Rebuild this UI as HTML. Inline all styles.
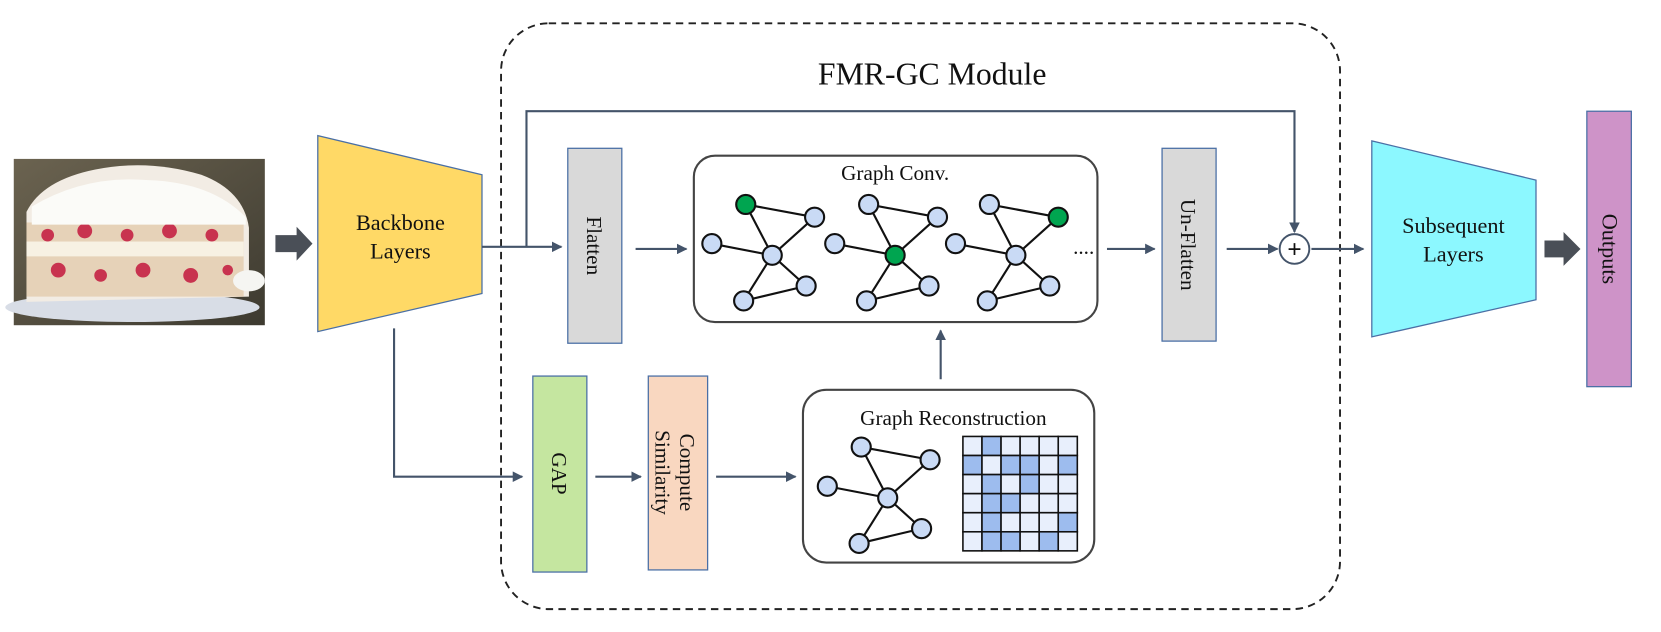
<!DOCTYPE html>
<html><head><meta charset="utf-8"><style>
html,body{margin:0;padding:0;background:#fff;}
svg{display:block;}
text{font-family:"Liberation Serif",serif;fill:#111;}
</style></head><body>
<svg width="1661" height="632" viewBox="0 0 1568 596.6" preserveAspectRatio="none" xmlns="http://www.w3.org/2000/svg">
<defs>
<marker id="ar" viewBox="0 0 10 10" refX="9" refY="5" markerWidth="5" markerHeight="5" orient="auto"><path d="M0,0 L10,5 L0,10 z" fill="#44546A"/></marker>
<linearGradient id="bg" x1="0" y1="0" x2="1" y2="1"><stop offset="0" stop-color="#6b6350"/><stop offset="1" stop-color="#3d3a30"/></linearGradient>
</defs>
<rect x="13" y="150" width="237" height="157" fill="url(#bg)"/>
<ellipse cx="125" cy="290" rx="120" ry="14" fill="#d8dde6"/>
<path d="M25,200 Q40,170 90,160 Q140,150 190,165 Q230,180 235,215 L235,280 L25,285 Z" fill="#f2ece4"/>
<rect x="25" y="210" width="205" height="70" fill="#e6d2b8"/>
<rect x="25" y="228" width="205" height="14" fill="#f7f1e3"/>
<g fill="#c8334f">
<circle cx="45" cy="222" r="6"/><circle cx="80" cy="218" r="7"/><circle cx="120" cy="222" r="6"/><circle cx="160" cy="218" r="7"/><circle cx="200" cy="222" r="6"/>
<circle cx="55" cy="255" r="7"/><circle cx="95" cy="260" r="6"/><circle cx="135" cy="255" r="7"/><circle cx="180" cy="260" r="7"/><circle cx="215" cy="255" r="5"/>
</g>
<path d="M30,195 Q80,165 140,170 Q200,172 232,205 L232,212 L30,212 Z" fill="#fbfbf8"/>
<ellipse cx="235" cy="265" rx="15" ry="10" fill="#f5f5f2"/>
<path d="M260,222 L280,222 L280,214 L295,230 L280,246 L280,238 L260,238 Z" fill="#4a4f57"/>
<path d="M1458,227 L1476,227 L1476,219 L1492,235 L1476,251 L1476,243 L1458,243 Z" fill="#4a4f57"/>
<polygon points="300,128 455,165 455,277 300,313" fill="#FFD966" stroke="#4a6fa5" stroke-width="1.2"/>
<text x="378" y="217" font-size="21" text-anchor="middle">Backbone</text>
<text x="378" y="244" font-size="21" text-anchor="middle">Layers</text>
<rect x="473" y="22" width="792" height="553" rx="45" fill="none" stroke="#222" stroke-width="1.8" stroke-dasharray="7,5"/>
<text x="880" y="80" font-size="30" text-anchor="middle">FMR-GC Module</text>
<g stroke="#44546A" stroke-width="2" fill="none">
<path d="M455,233 L530,233" marker-end="url(#ar)"/>
<path d="M497,233 L497,105 L1222,105 L1222,219" marker-end="url(#ar)"/>
<path d="M600,235 L648,235" marker-end="url(#ar)"/>
<path d="M1045,235 L1090,235" marker-end="url(#ar)"/>
<path d="M1158,235 L1206,235" marker-end="url(#ar)"/>
<path d="M1238,235 L1287,235" marker-end="url(#ar)"/>
<path d="M372,310 L372,450 L493,450" marker-end="url(#ar)"/>
<path d="M562,450 L605,450" marker-end="url(#ar)"/>
<path d="M676,450 L751,450" marker-end="url(#ar)"/>
<path d="M888,358 L888,312" marker-end="url(#ar)"/>
</g>
<circle cx="1222" cy="235" r="14" fill="#fff" stroke="#44546A" stroke-width="1.8"/>
<text x="1222" y="243" font-size="24" text-anchor="middle" font-weight="bold">+</text>
<rect x="536" y="140" width="51" height="184" fill="#D9D9D9" stroke="#4a6fa5" stroke-width="1.2"/>
<text transform="translate(554,232) rotate(90)" font-size="20" text-anchor="middle">Flatten</text>
<rect x="1097" y="140" width="51" height="182" fill="#D9D9D9" stroke="#4a6fa5" stroke-width="1.2"/>
<text transform="translate(1115,231) rotate(90)" font-size="20" text-anchor="middle">Un-Flatten</text>
<rect x="503" y="355" width="51" height="185" fill="#C5E6A0" stroke="#4a6fa5" stroke-width="1.2"/>
<text transform="translate(521,447) rotate(90)" font-size="20" text-anchor="middle">GAP</text>
<rect x="612" y="355" width="56" height="183" fill="#F9D7C0" stroke="#4a6fa5" stroke-width="1.2"/>
<text transform="translate(642,446) rotate(90)" font-size="20" text-anchor="middle">Compute</text>
<text transform="translate(619,446) rotate(90)" font-size="20" text-anchor="middle">Similarity</text>
<rect x="655" y="147" width="381" height="157" rx="20" fill="#fff" stroke="#444" stroke-width="2"/>
<text x="845" y="170" font-size="20" text-anchor="middle">Graph Conv.</text>
<g stroke="#111" stroke-width="2">
<g transform="translate(0,0)">
<line x1="704" y1="193" x2="769" y2="205"/><line x1="704" y1="193" x2="729" y2="241"/><line x1="672" y1="230" x2="729" y2="241"/><line x1="729" y1="241" x2="769" y2="205"/><line x1="729" y1="241" x2="761" y2="270"/><line x1="729" y1="241" x2="702" y2="284"/><line x1="702" y1="284" x2="761" y2="270"/>
</g>
<g transform="translate(116,0)">
<line x1="704" y1="193" x2="769" y2="205"/><line x1="704" y1="193" x2="729" y2="241"/><line x1="672" y1="230" x2="729" y2="241"/><line x1="729" y1="241" x2="769" y2="205"/><line x1="729" y1="241" x2="761" y2="270"/><line x1="729" y1="241" x2="702" y2="284"/><line x1="702" y1="284" x2="761" y2="270"/>
</g>
<g transform="translate(230,0)">
<line x1="704" y1="193" x2="769" y2="205"/><line x1="704" y1="193" x2="729" y2="241"/><line x1="672" y1="230" x2="729" y2="241"/><line x1="729" y1="241" x2="769" y2="205"/><line x1="729" y1="241" x2="761" y2="270"/><line x1="729" y1="241" x2="702" y2="284"/><line x1="702" y1="284" x2="761" y2="270"/>
</g>
</g>
<g stroke="#111" stroke-width="2" fill="#C9DAF5">
<circle cx="704" cy="193" r="9" fill="#00A550"/><circle cx="769" cy="205" r="9"/><circle cx="672" cy="230" r="9"/><circle cx="729" cy="241" r="9"/><circle cx="761" cy="270" r="9"/><circle cx="702" cy="284" r="9"/>
<circle cx="820" cy="193" r="9"/><circle cx="885" cy="205" r="9"/><circle cx="788" cy="230" r="9"/><circle cx="845" cy="241" r="9" fill="#00A550"/><circle cx="877" cy="270" r="9"/><circle cx="818" cy="284" r="9"/>
<circle cx="934" cy="193" r="9"/><circle cx="999" cy="205" r="9" fill="#00A550"/><circle cx="902" cy="230" r="9"/><circle cx="959" cy="241" r="9"/><circle cx="991" cy="270" r="9"/><circle cx="932" cy="284" r="9"/>
</g>
<text x="1013" y="240" font-size="20">....</text>
<rect x="758" y="368" width="275" height="163" rx="22" fill="#fff" stroke="#444" stroke-width="2"/>
<text x="900" y="401" font-size="20" text-anchor="middle">Graph Reconstruction</text>
<g stroke="#111" stroke-width="2" transform="translate(109,229)">
<line x1="704" y1="193" x2="769" y2="205"/><line x1="704" y1="193" x2="729" y2="241"/><line x1="672" y1="230" x2="729" y2="241"/><line x1="729" y1="241" x2="769" y2="205"/><line x1="729" y1="241" x2="761" y2="270"/><line x1="729" y1="241" x2="702" y2="284"/><line x1="702" y1="284" x2="761" y2="270"/>
</g>
<g stroke="#111" stroke-width="2" fill="#C9DAF5" transform="translate(109,229)">
<circle cx="704" cy="193" r="9"/><circle cx="769" cy="205" r="9"/><circle cx="672" cy="230" r="9"/><circle cx="729" cy="241" r="9"/><circle cx="761" cy="270" r="9"/><circle cx="702" cy="284" r="9"/>
</g>
<g stroke="#111" stroke-width="1.5">
<rect x="909" y="412" width="18" height="18" fill="#E8EFFC"/><rect x="927" y="412" width="18" height="18" fill="#9DBCEE"/><rect x="945" y="412" width="18" height="18" fill="#E8EFFC"/><rect x="963" y="412" width="18" height="18" fill="#E8EFFC"/><rect x="981" y="412" width="18" height="18" fill="#E8EFFC"/><rect x="999" y="412" width="18" height="18" fill="#E8EFFC"/>
<rect x="909" y="430" width="18" height="18" fill="#9DBCEE"/><rect x="927" y="430" width="18" height="18" fill="#E8EFFC"/><rect x="945" y="430" width="18" height="18" fill="#9DBCEE"/><rect x="963" y="430" width="18" height="18" fill="#9DBCEE"/><rect x="981" y="430" width="18" height="18" fill="#E8EFFC"/><rect x="999" y="430" width="18" height="18" fill="#9DBCEE"/>
<rect x="909" y="448" width="18" height="18" fill="#E8EFFC"/><rect x="927" y="448" width="18" height="18" fill="#9DBCEE"/><rect x="945" y="448" width="18" height="18" fill="#E8EFFC"/><rect x="963" y="448" width="18" height="18" fill="#9DBCEE"/><rect x="981" y="448" width="18" height="18" fill="#E8EFFC"/><rect x="999" y="448" width="18" height="18" fill="#E8EFFC"/>
<rect x="909" y="466" width="18" height="18" fill="#E8EFFC"/><rect x="927" y="466" width="18" height="18" fill="#9DBCEE"/><rect x="945" y="466" width="18" height="18" fill="#9DBCEE"/><rect x="963" y="466" width="18" height="18" fill="#E8EFFC"/><rect x="981" y="466" width="18" height="18" fill="#E8EFFC"/><rect x="999" y="466" width="18" height="18" fill="#E8EFFC"/>
<rect x="909" y="484" width="18" height="18" fill="#E8EFFC"/><rect x="927" y="484" width="18" height="18" fill="#9DBCEE"/><rect x="945" y="484" width="18" height="18" fill="#E8EFFC"/><rect x="963" y="484" width="18" height="18" fill="#E8EFFC"/><rect x="981" y="484" width="18" height="18" fill="#E8EFFC"/><rect x="999" y="484" width="18" height="18" fill="#9DBCEE"/>
<rect x="909" y="502" width="18" height="18" fill="#E8EFFC"/><rect x="927" y="502" width="18" height="18" fill="#9DBCEE"/><rect x="945" y="502" width="18" height="18" fill="#9DBCEE"/><rect x="963" y="502" width="18" height="18" fill="#E8EFFC"/><rect x="981" y="502" width="18" height="18" fill="#9DBCEE"/><rect x="999" y="502" width="18" height="18" fill="#E8EFFC"/>
</g>
<polygon points="1295,133 1450,170 1450,283 1295,318" fill="#8CF8FF" stroke="#4a6fa5" stroke-width="1.2"/>
<text x="1372" y="220" font-size="21" text-anchor="middle">Subsequent</text>
<text x="1372" y="247" font-size="21" text-anchor="middle">Layers</text>
<rect x="1498" y="105" width="42" height="260" fill="#CE93C8" stroke="#4a6fa5" stroke-width="1.2"/>
<text transform="translate(1513,235) rotate(90)" font-size="21" text-anchor="middle">Outputs</text>
</svg>
</body></html>
